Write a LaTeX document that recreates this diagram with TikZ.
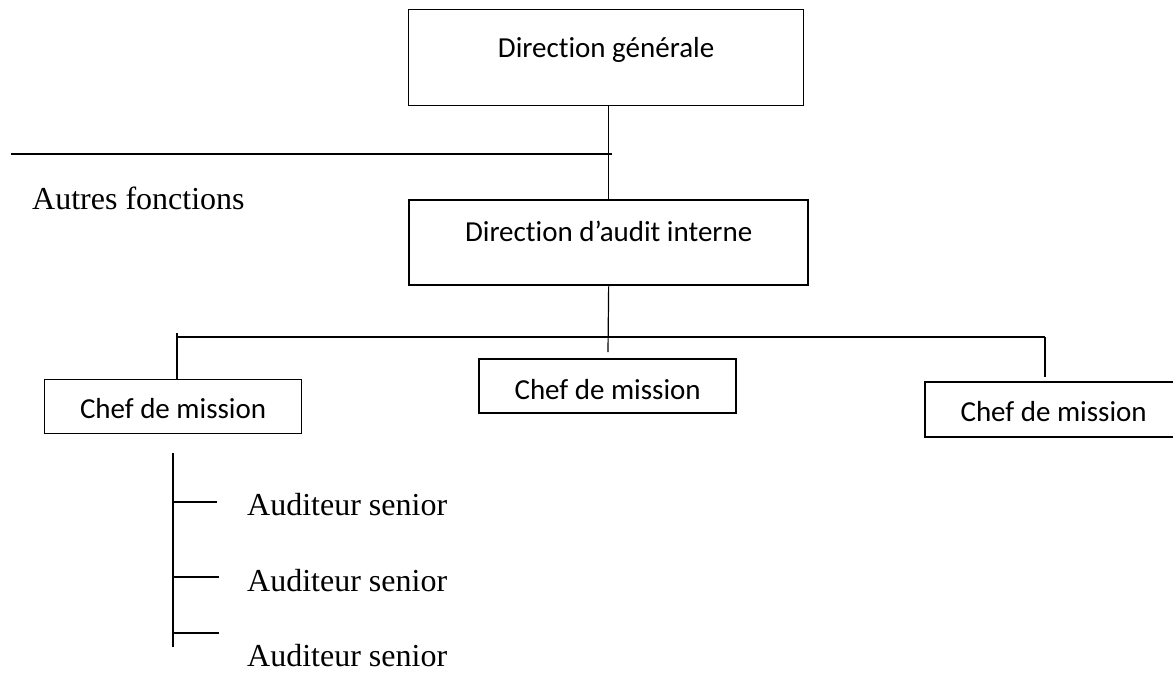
\documentclass[tikz,border=0pt]{standalone}
\usepackage{fontspec}
\setmainfont{Liberation Serif}
\newfontfamily\boxfont[RawFeature={-liga;-clig;-dlig}]{Carlito}
\begin{document}
\begin{tikzpicture}[x=1pt,y=-1pt,
  thinline/.style={line width=1.2pt},
  thickline/.style={line width=2.3pt},
  orgbox/.style={draw, inner sep=0pt, anchor=north west,
    font=\boxfont\fontsize{29}{34}\selectfont},
  plainlabel/.style={inner sep=0pt, anchor=base west,
    font=\fontsize{32}{38}\selectfont}
]
\useasboundingbox (0,0) rectangle (1173,673);
\clip (0,0) rectangle (1173,673);

% boxes
\node[orgbox, thinline, minimum width=395pt, text height=48pt, text depth=48pt]
  (dg) at (408,9) {Direction générale};
\node[orgbox, thickline, minimum width=399pt, text height=41pt, text depth=44pt]
  (audit) at (408,199) {Direction d’audit interne};
\node[orgbox, thinline, minimum width=257pt, text height=39pt, text depth=15pt]
  (cm1) at (44,379) {Chef de mission};
\node[orgbox, thickline, minimum width=257pt, text height=40pt, text depth=14pt]
  (cm2) at (478,358) {Chef de mission};
\node[orgbox, thickline, minimum width=257pt, text height=39pt, text depth=16pt]
  (cm3) at (924,381) {Chef de mission};

% plain labels
\node[plainlabel] (autres) at (32,209) {Autres fonctions};
\node[plainlabel] (as1) at (247,515) {Auditeur senior};
\node[plainlabel] (as2) at (247,591) {Auditeur senior};
\node[plainlabel] (as3) at (247,666) {Auditeur senior};

% general management to internal audit
\draw[thinline] (audit.north) -- (audit.north |- dg.south);
\coordinate (afL) at (11,154);
\draw[thinline] (afL) -- ([xshift=3pt]afL -| audit.north);

% internal audit to the mission heads
\coordinate (aiEnd) at (608,352);
\draw[thinline] (audit.south) -- (aiEnd);
\coordinate (busL) at (177,337);
\coordinate (busR) at (1045,337);
\draw[thinline] (busL) -- (busR);
\draw[thickline] ([yshift=4pt]busL) -- (busL |- cm1.north);
\draw[thinline] (busR) -- ([yshift=4pt]busR |- cm3.north);

% auditors under the first mission head
\coordinate (stTop) at (173,453);
\coordinate (stBot) at (173,647);
\draw[thinline] (stTop) -- (stBot);
\coordinate (t1) at (173,502);
\coordinate (t2) at (173,577);
\coordinate (t3) at (173,633);
\draw[thinline] (t1) -- ++(44,0);
\draw[thickline] (t2) -- ++(46,0);
\draw[thickline] (t3) -- ++(46,0);
\end{tikzpicture}
\end{document}
